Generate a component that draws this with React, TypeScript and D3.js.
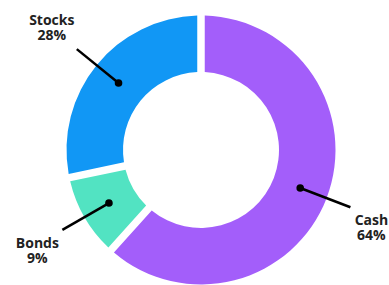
import React from "react";
import * as d3 from "d3";

const categories = ["Cash", "Bonds", "Stocks"];
const values = [62.7, 9.2, 28.1];
const percentLabels = ["64%", "9%", "28%"];
const colors = ["#A35EFA", "#52E3C2", "#1197F5"];

const W = 389;
const H = 285;
const cx = 201;
const cy = 150;
const outerR = 134.5;
const innerR = 78;

export default function App() {
  const pie = d3
    .pie<number>()
    .sort(null)
    .value((d) => d)
    .padAngle(0.075);
  const arcs = pie(values);
  const arc = d3
    .arc<d3.PieArcDatum<number>>()
    .innerRadius(innerR)
    .outerRadius(outerR)
    .padRadius(100);
  const midR = (innerR + outerR) / 2;
  const lineR = 160;

  return (
    <svg
      width={W}
      height={H}
      style={{ position: "absolute", left: 0, top: 0 }}
      fontFamily="'Open Sans', sans-serif"
    >
      <g transform={`translate(${cx},${cy})`}>
        {arcs.map((a, i) => (
          <path key={categories[i]} d={arc(a) || ""} fill={colors[i]} />
        ))}
        {arcs.map((a, i) => {
          const m = (a.startAngle + a.endAngle) / 2;
          const sx = Math.sin(m);
          const sy = -Math.cos(m);
          const x1 = sx * midR;
          const y1 = sy * midR;
          const x2 = sx * lineR;
          const y2 = sy * lineR;
          const tx = x2 + (sx > 0 ? 21 : -25);
          const ty = y2 + (sy > 0 ? 21 : -21);
          return (
            <g key={"l" + i}>
              <line x1={x1} y1={y1} x2={x2} y2={y2} stroke="#000" strokeWidth={2.5} />
              <circle cx={x1} cy={y1} r={3.8} fill="#000" />
              <text
                x={tx}
                y={ty - 3}
                textAnchor="middle"
                fontSize={14}
                fontWeight={700}
                fill="#222"
              >
                {categories[i]}
              </text>
              <text
                x={tx}
                y={ty + 12}
                textAnchor="middle"
                fontSize={14}
                fontWeight={700}
                fill="#222"
              >
                {percentLabels[i]}
              </text>
            </g>
          );
        })}
      </g>
    </svg>
  );
}
